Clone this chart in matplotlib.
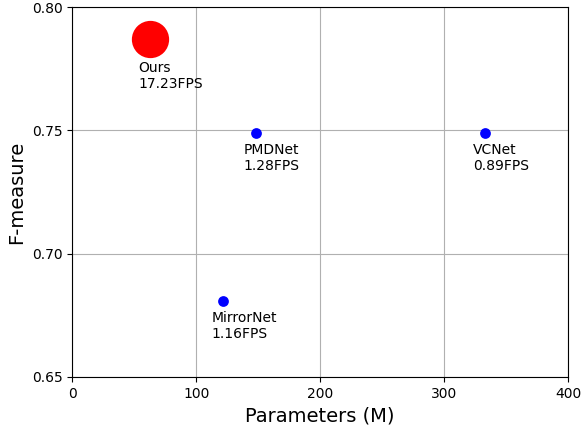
import matplotlib
matplotlib.use("Agg")
import matplotlib.pyplot as plt

names = ["Ours", "PMDNet", "VCNet", "MirrorNet"]
params = [63, 148, 333, 122]
fmeasure = [0.787, 0.749, 0.749, 0.681]
fps = ["17.23FPS", "1.28FPS", "0.89FPS", "1.16FPS"]
colors = ["red", "blue", "blue", "blue"]
sizes = [720, 60, 60, 60]
label_dy = [-22, -10, -10, -10]

fig = plt.figure(figsize=(5.82, 4.25), dpi=100)
ax = fig.add_axes([0.124, 0.113, 0.852, 0.8705])
ax.grid(True, color="#b0b0b0", linewidth=0.8)
ax.set_axisbelow(True)
for n, x, y, f, c, s, dy in zip(names, params, fmeasure, fps, colors, sizes, label_dy):
    ax.scatter([x], [y], s=s, color=c, zorder=3, linewidths=0)
    ax.annotate(f"{n}\n{f}", (x, y), xytext=(-12, dy), textcoords="offset pixels",
                ha="left", va="top", fontsize=10)
ax.set_xlim(0, 400)
ax.set_ylim(0.65, 0.80)
ax.set_xticks([0, 100, 200, 300, 400])
ax.set_yticks([0.65, 0.70, 0.75, 0.80])
ax.set_yticklabels(["0.65", "0.70", "0.75", "0.80"])
ax.tick_params(labelsize=10)
ax.set_xlabel("Parameters (M)", fontsize=14)
ax.set_ylabel("F-measure", fontsize=14)
fig.savefig("out.png", dpi=100)
